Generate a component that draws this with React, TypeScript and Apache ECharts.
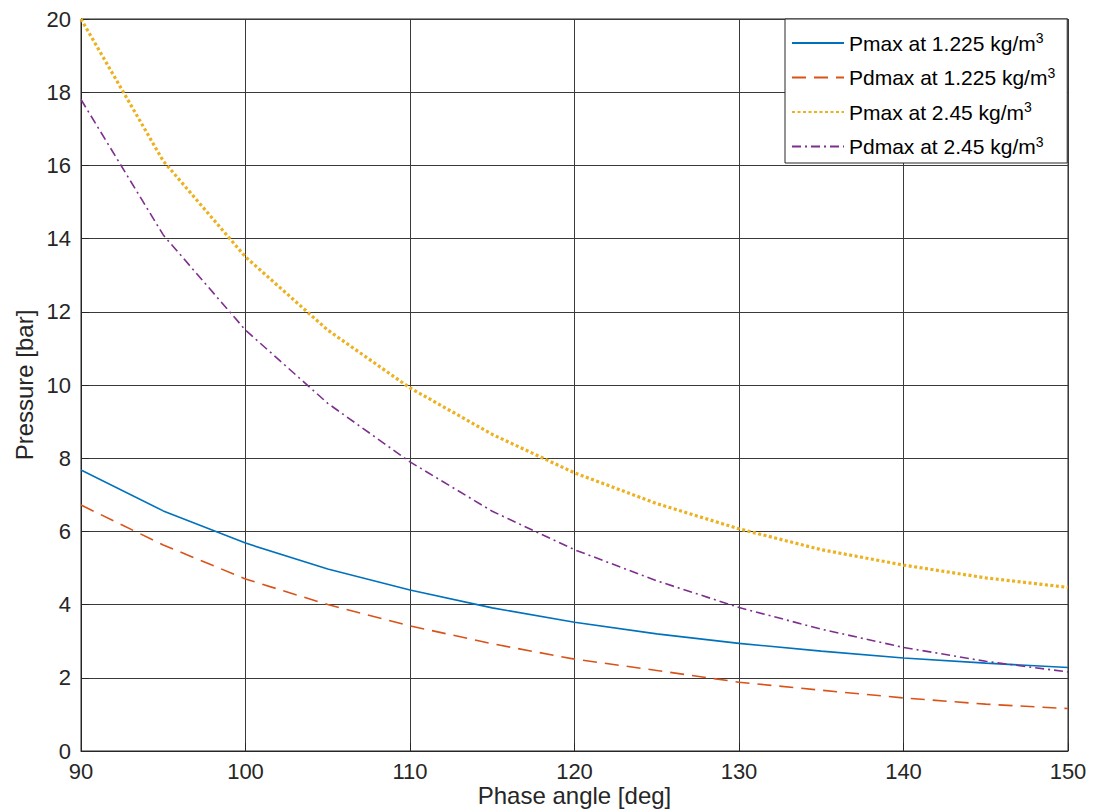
import React, { useEffect, useRef } from "react";
import * as echarts from "echarts";

const phaseAngles = [90, 95, 100, 105, 110, 115, 120, 125, 130, 135, 140, 145, 150];
const pmax1225 = [7.68, 6.56, 5.68, 4.97, 4.4, 3.91, 3.52, 3.2, 2.94, 2.73, 2.54, 2.4, 2.28];
const pdmax1225 = [6.72, 5.63, 4.7, 4.0, 3.42, 2.93, 2.51, 2.2, 1.88, 1.66, 1.45, 1.28, 1.16];
const pmax245 = [20.0, 16.12, 13.5, 11.5, 9.92, 8.65, 7.6, 6.76, 6.07, 5.5, 5.08, 4.73, 4.47];
const pdmax245 = [17.8, 14.1, 11.5, 9.5, 7.9, 6.55, 5.5, 4.65, 3.92, 3.33, 2.83, 2.45, 2.16];

const seriesNames = [
  "Pmax at 1.225 kg/m3",
  "Pdmax at 1.225 kg/m3",
  "Pmax at 2.45 kg/m3",
  "Pdmax at 2.45 kg/m3",
];

const FONT = "Liberation Sans, Arial, Helvetica, sans-serif";

function pairs(ys: number[]) {
  return phaseAngles.map((x, i) => [x, ys[i]]);
}

export default function App() {
  const ref = useRef<HTMLDivElement>(null);
  useEffect(() => {
    if (!ref.current) return;
    const chart = echarts.init(ref.current, undefined, { renderer: "svg" });
    const gridColor = "#3a3a3a";
    const mk = (name: string, ys: number[], color: string, width: number, type: any) => ({
      name,
      type: "line",
      data: pairs(ys),
      showSymbol: false,
      symbol: "none",
      smooth: false,
      lineStyle: { color, width, type, cap: "butt" },
      itemStyle: { color },
    });
    chart.setOption({
      animation: false,
      backgroundColor: "#ffffff",
      textStyle: { fontFamily: FONT },
      grid: {
        left: 81,
        right: 28,
        top: 19,
        bottom: 58,
        outerBoundsMode: "none",
        containLabel: false,
        show: true,
        borderColor: "#262626",
        borderWidth: 1,
      },
      legend: {
        orient: "vertical",
        left: 785,
        top: 19,
        padding: [12, 12, 6, 6],
        itemWidth: 52,
        itemHeight: 14,
        itemGap: 12,
        backgroundColor: "#ffffff",
        borderColor: "#262626",
        borderWidth: 1,
        data: seriesNames,
        itemStyle: { opacity: 0 },
        formatter: (name: string) => `{a|${name.slice(0, -1)}}{s|3}`,
        textStyle: {
          fontFamily: FONT,
          color: "#000",
          rich: {
            a: { fontSize: 21, lineHeight: 24, fontFamily: FONT, color: "#000" },
            s: { fontSize: 14, lineHeight: 14, verticalAlign: "top", fontFamily: FONT, color: "#000" },
          },
        },
      },
      xAxis: {
        type: "value",
        min: 90,
        max: 150,
        interval: 10,
        name: "Phase angle [deg]",
        nameLocation: "middle",
        nameGap: 32,
        nameMoveOverlap: false,
        nameTextStyle: { fontSize: 24, color: "#262626", fontFamily: FONT, lineHeight: 24 },
        axisLine: { show: true, lineStyle: { color: "#262626", width: 1 } },
        axisTick: { show: true, inside: true, length: 8, lineStyle: { color: "#262626" } },
        axisLabel: { fontSize: 22, color: "#262626", margin: 9, fontFamily: FONT, lineHeight: 22 },
        splitLine: { show: true, lineStyle: { color: gridColor, width: 1 } },
      },
      yAxis: {
        type: "value",
        min: 0,
        max: 20,
        interval: 2,
        name: "Pressure [bar]",
        nameLocation: "middle",
        nameGap: 45,
        nameRotate: 90,
        nameMoveOverlap: false,
        nameTextStyle: { fontSize: 24, color: "#262626", fontFamily: FONT },
        axisLine: { show: true, lineStyle: { color: "#262626", width: 1 } },
        axisTick: { show: true, inside: true, length: 8, lineStyle: { color: "#262626" } },
        axisLabel: { fontSize: 22, color: "#262626", margin: 10, fontFamily: FONT },
        splitLine: { show: true, lineStyle: { color: gridColor, width: 1 } },
      },
      series: [
        mk(seriesNames[0], pmax1225, "#0072BD", 1.6, "solid"),
        mk(seriesNames[1], pdmax1225, "#D95319", 1.6, [14, 8]),
        mk(seriesNames[2], pmax245, "#EDB120", 3.2, [3, 2.5]),
        mk(seriesNames[3], pdmax245, "#7E2F8E", 1.6, [9, 4, 2, 4]),
      ],
    });
    return () => chart.dispose();
  }, []);
  return (
    <div
      ref={ref}
      style={{ position: "absolute", left: 0, top: 0, width: 1096, height: 809, background: "#fff" }}
    />
  );
}
